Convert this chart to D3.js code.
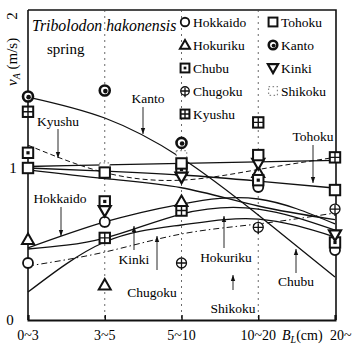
<!DOCTYPE html>
<html><head><meta charset="utf-8">
<script src="https://cdn.jsdelivr.net/npm/d3@7"></script>
<style>
body{margin:0;background:#fff}
svg{display:block}
svg text{font-family:"Liberation Serif","Times New Roman",Times,"DejaVu Serif",serif}
</style>
</head><body>
<svg id="c" width="352" height="347" font-family="Liberation Serif, Times New Roman, DejaVu Serif, serif"></svg>
<script>
// ---------- data ----------
const categories = ["0~3","3~5","5~10","10~20","20~"];
const yTicks = [0,1,2];

// observed mean swimming speeds (markers), null = not shown
const ptHokkaido = [0.375,0.645,null,0.875,0.46];
const ptTohoku   = [1.00,0.97,1.03,1.085,0.855];
const ptHokuriku = [0.53,0.23,0.78,0.97,null];
const ptKanto    = [1.47,1.51,1.165,null,null];
const ptChubu    = [1.10,0.78,0.99,0.92,0.51];
const ptKinki    = [null,0.72,0.94,1.03,0.56];
const ptChugoku  = [null,null,0.375,0.61,0.73];
const ptShikoku  = [null,1.00,1.08,null,null];
const ptKyushu   = [1.37,0.54,0.72,1.30,1.07];

// fitted curves (values at each category)
const fitKanto    = [1.467,1.329,1.066,0.691,0.283];
const fitKyushu   = [1.01,1.02,1.03,1.04,1.05];
const fitTohoku   = [1.00,0.98,0.954,0.914,0.868];
const fitChubu    = [0.987,0.93,0.87,0.75,0.66];
const fitShikoku  = [1.15,0.97,0.92,0.99,1.07];
const fitHokkaido = [0.474,0.645,0.763,0.796,0.632];
const fitHokuriku = [0.467,0.539,0.697,0.730,0.592];
const fitKinki    = [0.184,0.513,0.625,0.664,0.546];
const fitChugoku  = [0.355,0.447,0.566,0.632,0.704];

// ---------- setup ----------
const FF = "Liberation Serif, Times New Roman, DejaVu Serif, serif";
const svg = d3.select("#c");
const X0 = 28, X1 = 335, Y0 = 320, YTOP = 10;
const x = d3.scalePoint().domain(categories).range([X0, X1]).padding(0);
const y = d3.scaleLinear().domain([0,2]).range([Y0, 16]);

// frame
svg.append("path").attr("d",`M${X0},${YTOP}H336V${Y0}`).attr("fill","none").attr("stroke","#111").attr("stroke-width",1.6);

// vertical dotted guides at categories
categories.slice(1,4).forEach(c=>{
  svg.append("line").attr("x1",x(c)).attr("x2",x(c)).attr("y1",YTOP).attr("y2",Y0)
    .attr("stroke","#444").attr("stroke-width",0.8).attr("stroke-dasharray","2,4");
});

// axes
const xAxis = d3.axisBottom(x).tickSize(-5).tickFormat("");
const gx = svg.append("g").attr("transform",`translate(0,${Y0})`).call(xAxis);
gx.select(".domain").attr("stroke","#111").attr("stroke-width",2);
gx.selectAll(".tick line").attr("stroke","#111").attr("stroke-width",1.5);
const yAxis = d3.axisLeft(y).tickValues(yTicks).tickSize(0).tickFormat("");
const gy = svg.append("g").attr("transform",`translate(${X0},0)`).call(yAxis);
gy.select(".domain").attr("d",`M0,${Y0}V${YTOP}`).attr("stroke","#111").attr("stroke-width",1.6);

const T = (sel)=>sel.attr("font-family",FF);

// tick labels
T(svg.append("text")).attr("x",10).attr("y",y(0)+5).attr("text-anchor","middle").attr("font-size",15).text("0");
T(svg.append("text")).attr("x",13).attr("y",y(1)+5).attr("text-anchor","middle").attr("font-size",15).text("1");
T(svg.append("text")).attr("transform",`translate(17,${y(2)}) rotate(-90)`).attr("text-anchor","middle").attr("font-size",15).text("2");
categories.forEach((c,i)=>{
  const t = T(svg.append("text")).attr("y",340).attr("font-size",14).text(c);
  if(i===4) t.attr("x",330); else t.attr("x",x(c)).attr("text-anchor","middle");
});
// x title
const xt = T(svg.append("text")).attr("x",282).attr("y",340).attr("font-size",14);
xt.append("tspan").attr("font-style","italic").text("B");
xt.append("tspan").attr("font-size",10).attr("dy",3).attr("font-style","italic").text("L");
xt.append("tspan").attr("dy",-3).text("(cm)");
// y title
const yt = T(svg.append("text")).attr("transform","translate(17,86) rotate(-90)").attr("font-size",15);
yt.append("tspan").attr("font-style","italic").text("v");
yt.append("tspan").attr("font-size",10).attr("dy",3).attr("font-style","italic").text("A");
yt.append("tspan").attr("dy",-3).text(" (m/s)");

// title
T(svg.append("text")).attr("x",32).attr("y",31).attr("font-size",15.8).attr("font-style","italic").text("Tribolodon hakonensis");
T(svg.append("text")).attr("x",47).attr("y",54).attr("font-size",15).text("spring");

// ---------- curves ----------
const line = d3.line().x((d,i)=>x(categories[i])).y(d=>y(d)).curve(d3.curveNatural);
const curves = [
  [fitKanto,null],[fitKyushu,null],[fitTohoku,null],[fitChubu,null],
  [fitShikoku,"5,3"],[fitHokkaido,null],[fitHokuriku,null],[fitKinki,null],[fitChugoku,"6,3,1.5,3"]
];
curves.forEach(([v,dash])=>{
  svg.append("path").attr("d",line(v)).attr("fill","none").attr("stroke","#111")
    .attr("stroke-width",dash?1:1.3).attr("stroke-dasharray",dash);
});

// ---------- markers ----------
function marker(g, type, cx, cy, s){
  s = s||1;
  const r=5*s, h=5.2*s;
  const sq = ()=>g.append("rect").attr("x",cx-h).attr("y",cy-h).attr("width",2*h).attr("height",2*h)
      .attr("fill","#fff").attr("stroke","#111").attr("stroke-width",2);
  if(type==="circle"){
    g.append("circle").attr("cx",cx).attr("cy",cy).attr("r",r).attr("fill","#fff").attr("stroke","#111").attr("stroke-width",1.8);
  } else if(type==="square"){ sq(); }
  else if(type==="triUp"){
    g.append("path").attr("d",`M${cx},${cy-6*s}L${cx+6*s},${cy+4.5*s}L${cx-6*s},${cy+4.5*s}Z`).attr("fill","#fff").attr("stroke","#111").attr("stroke-width",2);
  } else if(type==="triDown"){
    g.append("path").attr("d",`M${cx},${cy+6*s}L${cx+6*s},${cy-4.5*s}L${cx-6*s},${cy-4.5*s}Z`).attr("fill","#fff").attr("stroke","#111").attr("stroke-width",2.2);
  } else if(type==="kanto"){
    g.append("circle").attr("cx",cx).attr("cy",cy).attr("r",r).attr("fill","#fff").attr("stroke","#111").attr("stroke-width",2.6);
    g.append("circle").attr("cx",cx+0.6).attr("cy",cy+0.6).attr("r",2.3*s).attr("fill","#111");
  } else if(type==="chubu"){
    sq(); g.append("rect").attr("x",cx-1.6*s).attr("y",cy-1.6*s).attr("width",3.2*s).attr("height",3.2*s).attr("fill","#111");
  } else if(type==="chugoku"){
    g.append("circle").attr("cx",cx).attr("cy",cy).attr("r",r).attr("fill","#fff").attr("stroke","#111").attr("stroke-width",1.3);
    g.append("path").attr("d",`M${cx-r},${cy}H${cx+r}M${cx},${cy-r+1}V${cy+r+2}`).attr("stroke","#111").attr("stroke-width",1.3);
  } else if(type==="shikoku"){
    g.append("rect").attr("x",cx-h).attr("y",cy-h).attr("width",2*h).attr("height",2*h)
      .attr("fill","#fff").attr("stroke","#888").attr("stroke-width",1.2).attr("stroke-dasharray","1.5,2.5");
  } else if(type==="kyushu"){
    sq(); g.append("path").attr("d",`M${cx-h},${cy}H${cx+h}M${cx},${cy-h}V${cy+h}`).attr("stroke","#111").attr("stroke-width",1.4);
  }
}
const series = [
  ["Kyushu","kyushu",ptKyushu],["Chugoku","chugoku",ptChugoku],["Shikoku","shikoku",ptShikoku],
  ["Hokkaido","circle",ptHokkaido],["Hokuriku","triUp",ptHokuriku],["Kanto","kanto",ptKanto],
  ["Chubu","chubu",ptChubu],["Kinki","triDown",ptKinki],["Tohoku","square",ptTohoku]
];
const gm = svg.append("g");
series.forEach(([name,type,vals])=>{
  vals.forEach((v,i)=>{ if(v!=null) marker(gm,type,x(categories[i]),y(v)); });
});

// ---------- legend ----------
const legend = [
  ["Hokkaido","circle",0,0],["Tohoku","square",1,0],
  ["Hokuriku","triUp",0,1],["Kanto","kanto",1,1],
  ["Chubu","chubu",0,2],["Kinki","triDown",1,2],
  ["Chugoku","chugoku",0,3],["Shikoku","shikoku",1,3],
  ["Kyushu","kyushu",0,4]
];
const gl = svg.append("g");
legend.forEach(([name,type,col,row])=>{
  const mx = col===0?185:273, my = 22+row*23;
  marker(gl,type,mx,my,0.85);
  T(gl.append("text")).attr("x",mx+8).attr("y",my+5).attr("font-size",13.5).text(name);
});

// ---------- annotations ----------
const ann = [
  ["Kanto",148,103,143,107,134],
  ["Kyushu",58,126,58,129,158],
  ["Tohoku",313,141,313,145,183],
  ["Hokkaido",60,203,61,207,236],
  ["Kinki",134,264,134,250,226],
  ["Chugoku",152,297,157,270,236],
  ["Hokuriku",226,262,224,248,216],
  ["Shikoku",233,313,233,290,275],
  ["Chubu",296,286,296,273,249]
];
const ga = svg.append("g");
ann.forEach(([t,tx,ty,ax,y1,y2])=>{
  T(ga.append("text")).attr("x",tx).attr("y",ty).attr("text-anchor","middle").attr("font-size",13.5).text(t);
  ga.append("line").attr("x1",ax).attr("x2",ax).attr("y1",y1).attr("y2",y2).attr("stroke","#111").attr("stroke-width",0.9);
  const d = y2<y1?1:-1;
  ga.append("path").attr("d",`M${ax},${y2}L${ax-2.2},${y2+6*d}L${ax+2.2},${y2+6*d}Z`).attr("fill","#111");
});
</script>
</body></html>
